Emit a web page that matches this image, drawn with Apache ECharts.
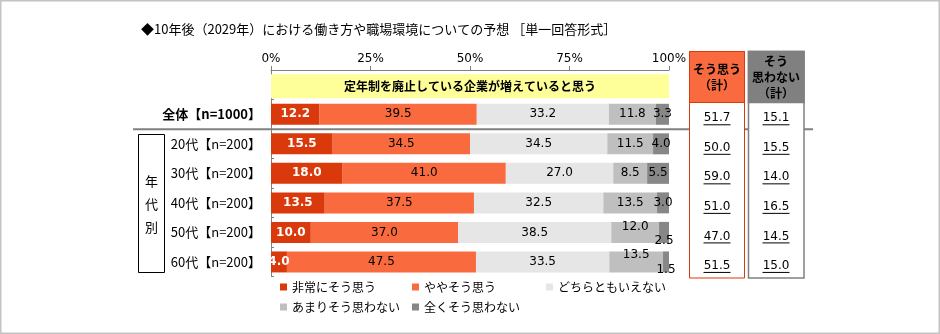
<!DOCTYPE html>
<html>
<head>
<meta charset="utf-8">
<script src="https://cdn.jsdelivr.net/npm/echarts@6/dist/echarts.min.js"></script>
<style>html,body{margin:0;padding:0;background:#fff}#c{width:940px;height:334px}</style>
</head>
<body>
<div id="c"></div>
<script>
const titleText = '◆10年後（2029年）における働き方や職場環境についての予想 ［単一回答形式］';
const questionText = '定年制を廃止している企業が増えていると思う';
const categories = ['', '全体【n=1000】', '20代【n=200】', '30代【n=200】', '40代【n=200】', '50代【n=200】', '60代【n=200】'];
const seriesNames = ['非常にそう思う', 'ややそう思う', 'どちらともいえない', 'あまりそう思わない', '全くそう思わない'];
const veryAgree        = [12.2, 15.5, 18.0, 13.5, 10.0, 4.0];
const somewhatAgree    = [39.5, 34.5, 41.0, 37.5, 37.0, 47.5];
const neutral          = [33.2, 34.5, 27.0, 32.5, 38.5, 33.5];
const somewhatDisagree = [11.8, 11.5, 8.5, 13.5, 12.0, 13.5];
const stronglyDisagree = [3.3, 4.0, 5.5, 3.0, 2.5, 1.5];
const agreeTotal    = [51.7, 50.0, 59.0, 51.0, 47.0, 51.5];
const disagreeTotal = [15.1, 15.5, 14.0, 16.5, 14.5, 15.0];
const tickValues = [0, 25, 50, 75, 100];
const groupLabel = '年代別';
const agreeHeader = 'そう思う\n（計）';
const disagreeHeader = 'そう\n思わない\n（計）';

const FONT = '"Noto Sans CJK JP", "Noto Sans", sans-serif';
const NUM = '"DejaVu Sans", "Noto Sans", sans-serif';
const colors = ['#D9390B', '#F96A3F', '#E6E6E6', '#BFBFBF', '#878787'];
const valueSets = [veryAgree, somewhatAgree, neutral, somewhatDisagree, stronglyDisagree];

// label nudges for crowded small segments (series index -> row index -> offset)
const labelNudge = {3: {4: [0, -6], 5: [0, -7]}, 4: {4: [0, 8], 5: [0, 8]}};

const chart = echarts.init(document.getElementById('c'), null, {renderer: 'canvas'});

const barSeries = valueSets.map((vals, si) => ({
  name: seriesNames[si],
  type: 'bar',
  stack: 'main',
  barWidth: 21,
  barGap: '-100%',
  itemStyle: {color: colors[si]},
  label: {
    show: true,
    position: 'inside',
    fontFamily: NUM,
    fontSize: 12,
    fontWeight: si === 0 ? 'bold' : 'normal',
    color: si === 0 ? '#fff' : '#000',
    formatter: p => Number(p.value).toFixed(1)
  },
  data: ['-'].concat(vals.map((v, ri) => {
    const n = labelNudge[si] && labelNudge[si][ri];
    return n ? {value: v, label: {offset: n}} : v;
  }))
}));

const headerSeries = {
  name: questionText,
  type: 'bar',
  stack: 'header',
  barWidth: 24,
  barGap: '-100%',
  itemStyle: {color: '#FFFF99'},
  label: {
    show: true, position: 'inside', fontFamily: FONT, fontSize: 12, fontWeight: 'bold', color: '#000',
    formatter: () => questionText
  },
  data: [100].concat(categories.slice(1).map(() => '-'))
};

const tableSeries = {
  name: 'table',
  type: 'custom',
  clip: false,
  encode: {x: 0, y: 1},
  data: agreeTotal.map((a, i) => [100, i + 1, a, disagreeTotal[i]]),
  renderItem: (params, api) => {
    const p = api.coord([api.value(0), api.value(1)]);
    const vals = [[p[0] + 48, api.value(2)], [p[0] + 107, api.value(3)]];
    const children = [];
    vals.forEach(([x, v]) => {
      children.push({type: 'text', style: {text: v.toFixed(1), x: x, y: p[1] + 4, align: 'center', verticalAlign: 'middle', font: '12px ' + NUM, fill: '#000'}});
      children.push({type: 'line', shape: {x1: x - 13.5, y1: p[1] + 10.5, x2: x + 13.5, y2: p[1] + 10.5}, style: {stroke: '#000', lineWidth: 1}});
    });
    return {type: 'group', children};
  }
};

const legendPos = [[280, 281], [412, 281], [546, 281], [280, 301], [412, 301]];
const legends = seriesNames.map((n, i) => ({
  data: [n], left: legendPos[i][0], top: legendPos[i][1], padding: 0,
  icon: 'rect', itemWidth: 7, itemHeight: 7,
  textStyle: {fontFamily: FONT, fontSize: 12, color: '#000'},
  selectedMode: false
}));

const option = {
  animation: false,
  backgroundColor: '#fff',
  title: {text: titleText, left: 136, top: 18, textStyle: {fontFamily: FONT, fontSize: 13, fontWeight: 'normal', color: '#000'}},
  legend: legends,
  grid: {left: 271, top: 70, width: 398, height: 206.7, containLabel: false},
  xAxis: {
    type: 'value', position: 'top', min: 0, max: 100, interval: 25,
    axisLine: {show: true, lineStyle: {color: '#808080', width: 1}},
    axisTick: {show: true, length: 4, lineStyle: {color: '#808080'}},
    splitLine: {show: false},
    axisLabel: {margin: 5, fontFamily: NUM, fontSize: 12, color: '#000',
      formatter: v => tickValues.indexOf(v) >= 0 ? v + '%' : ''}
  },
  yAxis: {
    type: 'category', inverse: true, data: categories,
    axisLine: {show: true, lineStyle: {color: '#808080', width: 1}},
    axisTick: {show: true, inside: true, length: 3, lineStyle: {color: '#808080'}},
    axisLabel: {margin: 10, fontFamily: FONT, fontSize: 13, color: '#000',
      formatter: (v, i) => i === 1 ? '{b|' + v + '}' : v,
      rich: {b: {fontFamily: FONT, fontSize: 13, fontWeight: 'bold', color: '#000'}}}
  },
  graphic: [
    {type: 'rect', shape: {x: 0.75, y: 0.75, width: 938.5, height: 332.5}, style: {fill: 'none', stroke: '#C4C4C4', lineWidth: 1.5}, silent: true},
    {type: 'line', shape: {x1: 133, y1: 129.3, x2: 813, y2: 129.3}, style: {stroke: '#808080', lineWidth: 2}, silent: true},
    {type: 'rect', shape: {x: 689.5, y: 51.5, width: 55, height: 226.5}, style: {fill: '#fff', stroke: '#D9390B', lineWidth: 1}, silent: true},
    {type: 'rect', shape: {x: 689.5, y: 51.5, width: 55, height: 51}, style: {fill: '#F96A3F', stroke: '#D9390B', lineWidth: 1}, silent: true},
    {type: 'text', style: {text: agreeHeader, x: 717, y: 77, align: 'center', verticalAlign: 'middle', font: 'bold 12px ' + FONT, fill: '#000', lineHeight: 16}, silent: true},
    {type: 'rect', shape: {x: 748.5, y: 51.5, width: 55.5, height: 226.5}, style: {fill: '#fff', stroke: '#808080', lineWidth: 1.5}, silent: true},
    {type: 'rect', shape: {x: 748.5, y: 51.5, width: 55.5, height: 51}, style: {fill: '#808080', stroke: '#808080', lineWidth: 1.5}, silent: true},
    {type: 'text', style: {text: disagreeHeader, x: 776, y: 77.5, align: 'center', verticalAlign: 'middle', font: 'bold 12px ' + FONT, fill: '#000', lineHeight: 16}, silent: true},
    {type: 'rect', shape: {x: 138.5, y: 134.5, width: 26, height: 138}, style: {fill: 'none', stroke: '#000', lineWidth: 1}, silent: true},
    {type: 'text', style: {text: groupLabel.split('').join('\n'), x: 151.5, y: 204, align: 'center', verticalAlign: 'middle', font: '13px ' + FONT, fill: '#000', lineHeight: 23}, silent: true}
  ],
  series: [headerSeries].concat(barSeries).concat([tableSeries])
};
chart.setOption(option);
</script>
</body>
</html>
